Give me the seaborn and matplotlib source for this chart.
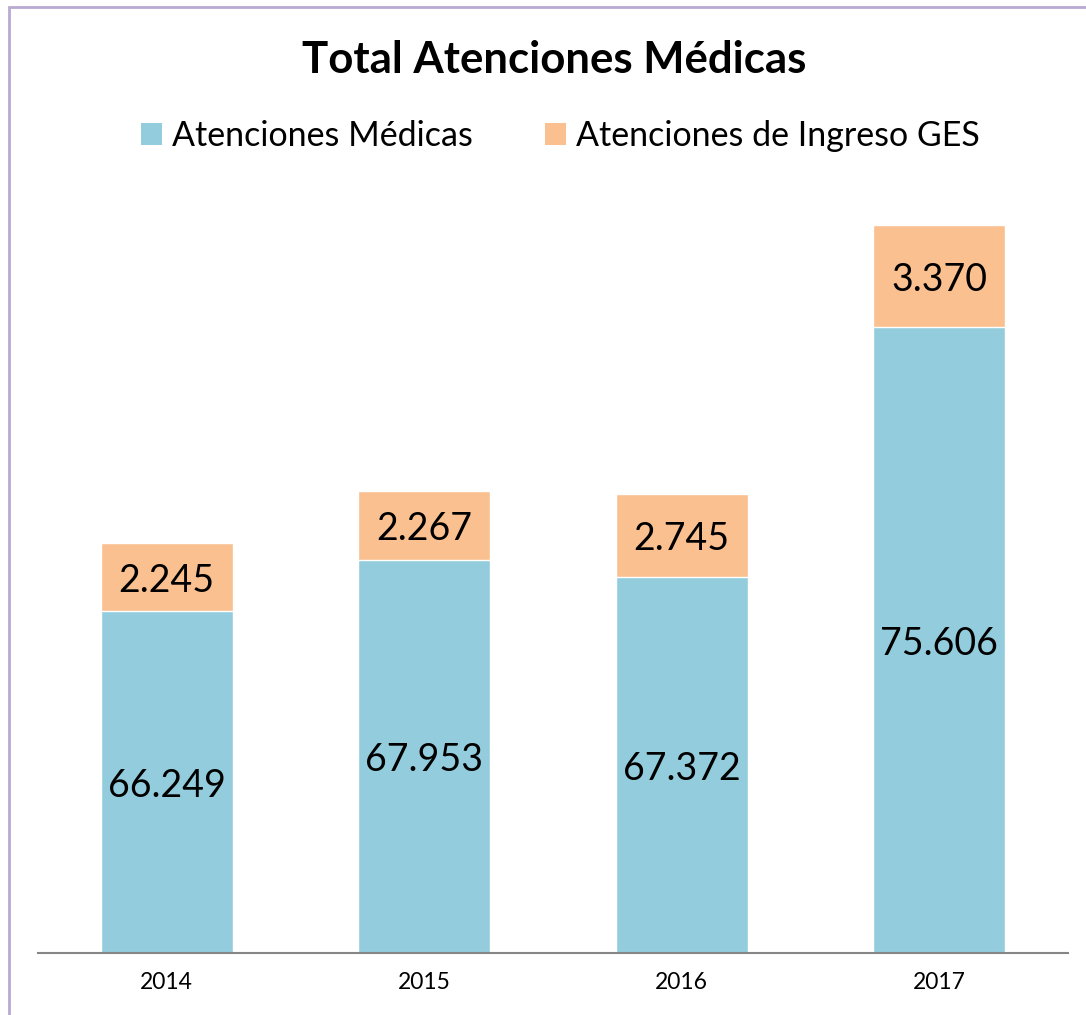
import matplotlib
matplotlib.use("Agg")
import matplotlib.pyplot as plt
from matplotlib.patches import Patch, Rectangle
import pandas as pd
import seaborn as sns

# données du graphique
anios = ["2014", "2015", "2016", "2017"]
atenciones_medicas = [66249, 67953, 67372, 75606]
atenciones_ges = [2245, 2267, 2745, 3370]
series = ["Atenciones Médicas", "Atenciones de Ingreso GES"]

azul = "#93CDDD"
naranja = "#FAC090"

sns.set_theme(style="white")
plt.rcParams["font.family"] = ["Lato", "DejaVu Sans"]
plt.rcParams["text.color"] = "black"
plt.rcParams["xtick.color"] = "black"

df = pd.DataFrame({
    "anio": anios,
    "medicas": atenciones_medicas,
    "ges": atenciones_ges,
})
df["total"] = df["medicas"] + df["ges"]

fig = plt.figure(figsize=(10.86, 10.15), dpi=100)
ax = fig.add_axes([38 / 1086, 62 / 1015, 1030 / 1086, 759 / 1015])

# barres empilées : total en orange, puis la base en bleu par-dessus
sns.barplot(data=df, x="anio", y="total", color=naranja, width=0.513,
            saturation=1, ax=ax)
sns.barplot(data=df, x="anio", y="medicas", color=azul, width=0.513,
            saturation=1, ax=ax)

ymin, ymax = 55000, 80000
ax.set_ylim(ymin, ymax)
ax.set_xlim(-0.5, 3.5)

def fmt(v):
    return f"{v:,}".replace(",", ".")

for i, row in df.iterrows():
    ax.text(i, (ymin + row["medicas"]) / 2, fmt(row["medicas"]),
            ha="center", va="center_baseline", fontsize=27, color="black")
    ax.text(i, row["medicas"] + row["ges"] / 2, fmt(row["ges"]),
            ha="center", va="center_baseline", fontsize=27, color="black")

ax.set_xlabel("")
ax.set_ylabel("")
ax.set_yticks([])
ax.tick_params(axis="x", labelsize=16.5, length=0, pad=14, labelcolor="black")
for s in ["top", "left", "right"]:
    ax.spines[s].set_visible(False)
ax.spines["bottom"].set_color("#868686")
ax.spines["bottom"].set_linewidth(1.5)

fig.text(0.51, 0.941, "Total Atenciones Médicas", ha="center", va="center",
         fontsize=31.5, fontweight="bold", color="black")

handles = [Patch(facecolor=azul, edgecolor="none"),
           Patch(facecolor=naranja, edgecolor="none")]
fig.legend(handles, series, loc="center", bbox_to_anchor=(0.516, 0.866),
           ncol=2, frameon=False, fontsize=24.5, handlelength=0.62,
           handleheight=0.62, handletextpad=0.3, columnspacing=2.1,
           labelcolor="black")

# cadre violet autour du graphique
fig.patches.append(Rectangle((9 / 1086, -0.05), 1.2, 1 - 7 / 1015 + 0.05,
                             transform=fig.transFigure, fill=False,
                             edgecolor="#B9A9D3", linewidth=2))

fig.savefig("out.png", dpi=100)
